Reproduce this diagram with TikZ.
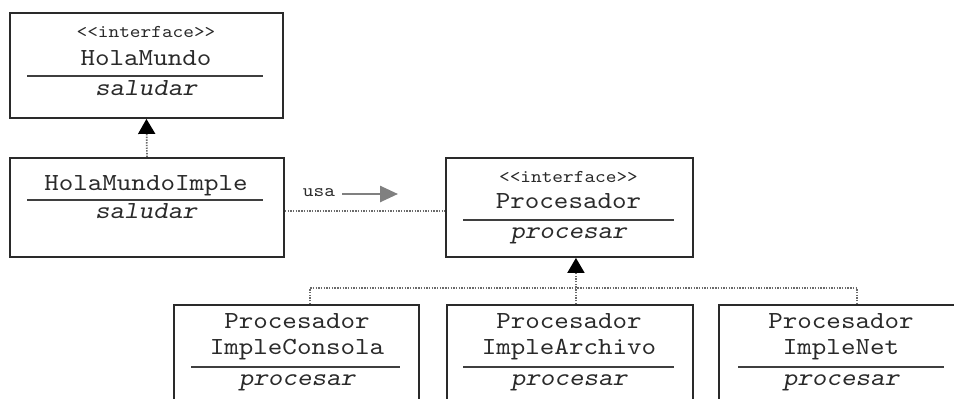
\documentclass[tikz,border=0pt]{standalone}
\usepackage{fontspec}
\setmonofont{lmmono10-regular.otf}[FakeStretch=1.13, ItalicFont=lmmonoslant10-regular.otf]
\usetikzlibrary{arrows.meta,calc}
\definecolor{ink}{HTML}{2A2A2A}
\definecolor{dotgray}{HTML}{6A6A6A}
\tikzset{
  classbox/.style={draw=ink, line width=1.9pt, anchor=north west, inner sep=0pt, minimum height=#1},
  nametext/.style={anchor=base, inner sep=0pt, text=ink, font=\ttfamily\fontsize{24.5}{26}\selectfont},
  stereotext/.style={anchor=base, inner sep=0pt, text=ink, font=\ttfamily\fontsize{18}{20}\selectfont},
  optext/.style={anchor=base, inner sep=0pt, text=ink, font=\ttfamily\itshape\fontsize{24.5}{26}\selectfont},
  sepline/.style={draw=ink!90, line width=1.8pt},
  dots/.style={draw=dotgray, line width=1.7pt, dash pattern=on 1.4pt off 1.3pt},
  inh/.style={dots, -{Triangle[length=15pt,width=17pt,color=black]}},
  usaarrow/.style={draw=gray, line width=2.6pt, -{Triangle[length=18pt,width=16pt,color=gray]}},
}
\begin{document}
\begin{tikzpicture}[x=1pt,y=-1pt]
\clip (0,0) rectangle (954,399);
\fill[white] (0,0) rectangle (954,399);

% HolaMundo
\node[classbox=105pt, minimum width=273pt] (hm) at (9,12) {};
\node[stereotext] (hmS) at (146,37) {<<interface>>};
\node[nametext] (hmN) at (146,65) {HolaMundo};
\draw[sepline] (27,76) -- (263,76);
\node[optext] (hmO) at (146,95) {saludar};

% HolaMundoImple
\node[classbox=99pt, minimum width=274pt] (hmi) at (9,157) {};
\node[nametext] (hmiN) at (146,190) {HolaMundoImple};
\draw[sepline] (27,200) -- (263,200);
\node[optext] (hmiO) at (146,218) {saludar};

% Procesador
\node[classbox=99pt, minimum width=247pt] (pr) at (445,157) {};
\node[stereotext] (prS) at (568.5,182) {<<interface>>};
\node[nametext] (prN) at (568.5,208) {Procesador};
\draw[sepline] (463,220) -- (674,220);
\node[optext] (prO) at (568.5,238) {procesar};

% Bottom classes
\node[classbox=130pt, minimum width=245pt] (pa) at (173,304) {};
\node[nametext] (paN1) at (297,328) {Procesador};
\node[nametext] (paN2) at (297,354) {ImpleConsola};
\draw[sepline] (191,367) -- (400,367);
\node[optext] (paO) at (297,385) {procesar};

\node[classbox=130pt, minimum width=246pt] (pb) at (446,304) {};
\node[nametext] (pbN1) at (569,328) {Procesador};
\node[nametext] (pbN2) at (569,354) {ImpleArchivo};
\draw[sepline] (463,367) -- (674,367);
\node[optext] (pbO) at (569,385) {procesar};

\node[classbox=130pt, minimum width=246pt] (pc) at (718,304) {};
\node[nametext] (pcN1) at (841,328) {Procesador};
\node[nametext] (pcN2) at (841,354) {ImpleNet};
\draw[sepline] (738,367) -- (944,367);
\node[optext] (pcO) at (841,385) {procesar};

% Connectors
\draw[inh] (hmi.north) -- (hm.south);
\draw[dots] ($(hmi.east)+(0,3.5)$) -- ($(pr.west)+(0,3.5)$);
\draw[inh] ($(pb.north)+(6,0)$) -- ($(pr.south)+(6.5,0)$);
\draw[dots] ($(pa.north)+(13.5,0)$) -- ++(0,-16) -| ($(pc.north)+(15,0)$);

% usa label and arrow
\node[stereotext] (usa) at (319,196) {usa};
\coordinate (ua) at (342,194);
\coordinate (ub) at (398,194);
\draw[usaarrow] (ua) -- (ub);
\end{tikzpicture}
\end{document}
